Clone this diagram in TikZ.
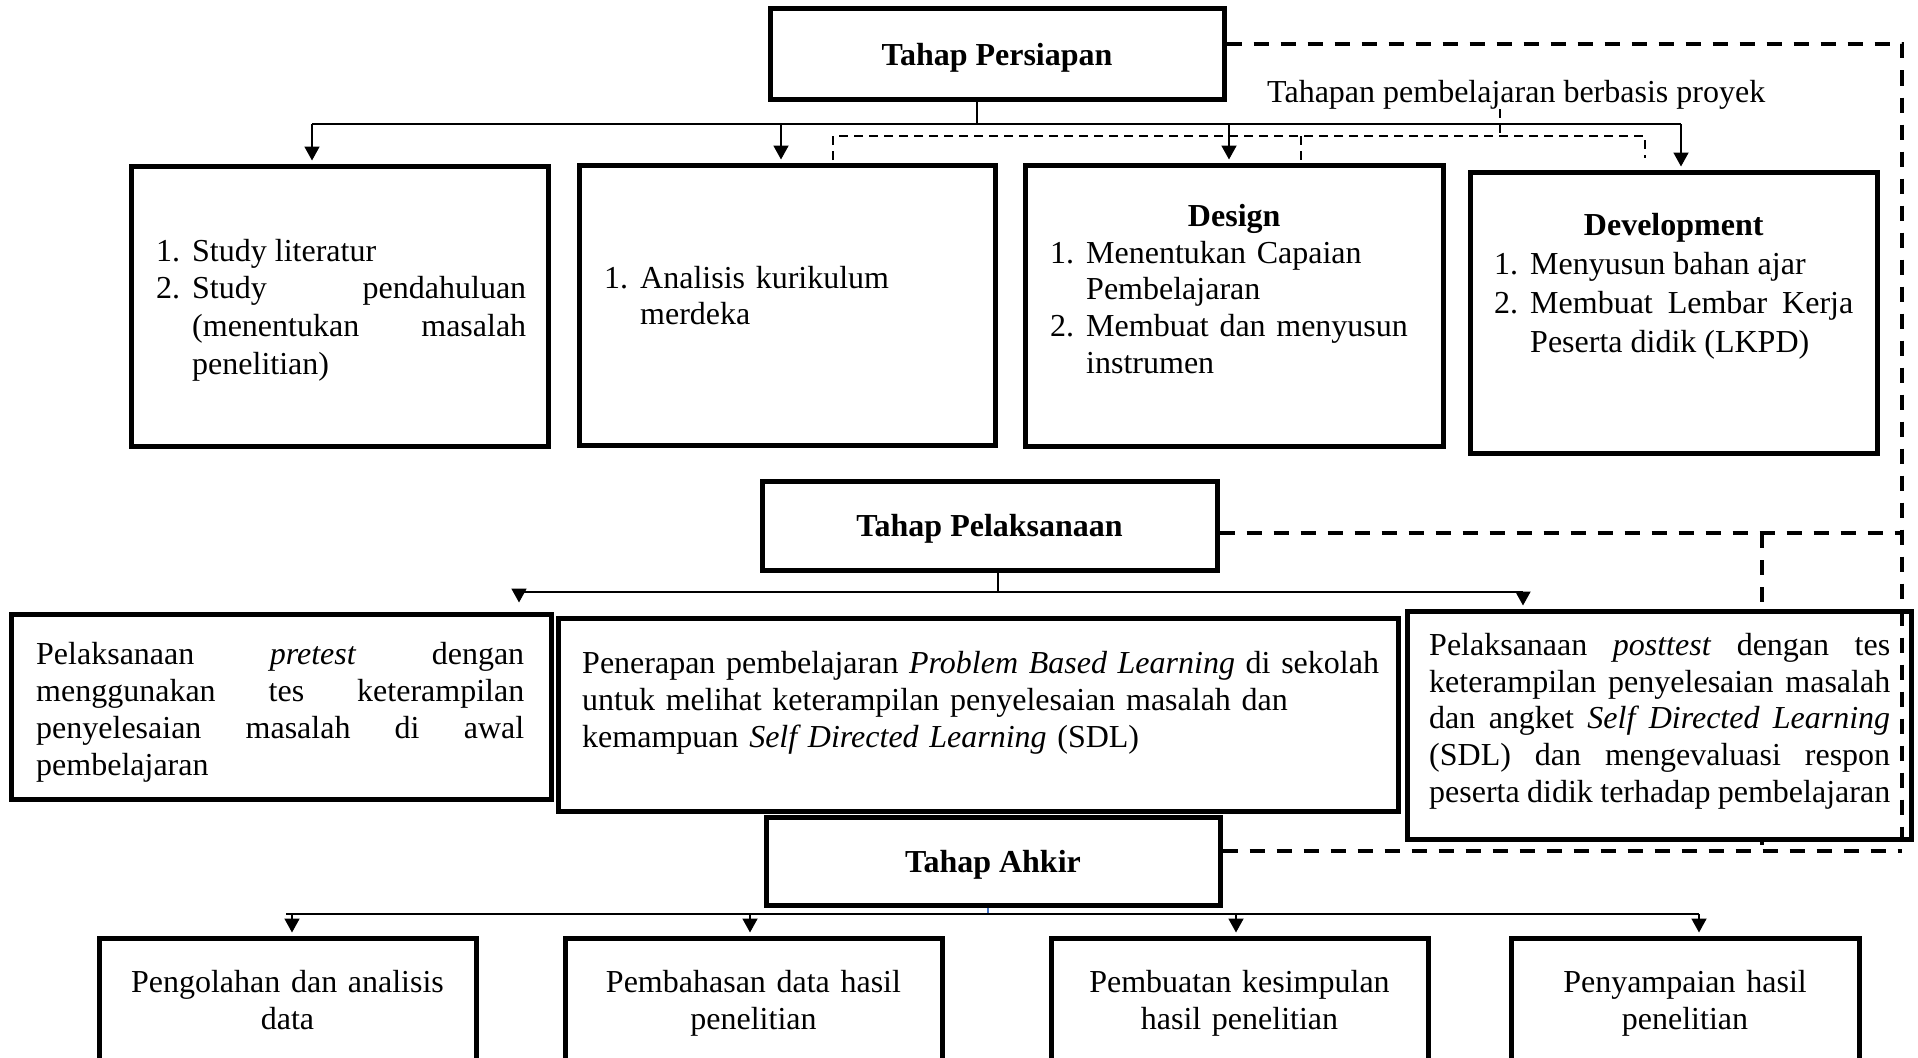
\documentclass[tikz,border=0pt]{standalone}
\usepackage{fontspec}
\setmainfont{Liberation Serif}
\usetikzlibrary{arrows.meta}
\definecolor{lineblue}{RGB}{68,114,196}
\newcommand{\itemno}[1]{\makebox[36pt][l]{#1}}
\newcommand{\fsz}[1]{\fontsize{32}{#1}\selectfont}
\hyphenpenalty=10000
\exhyphenpenalty=10000
\tolerance=10000
\setlength{\parindent}{0pt}
\tikzset{
  box/.style={draw, line width=5pt, fill=white, rectangle, inner sep=0pt},
  conn/.style={line width=1.8pt},
  blueline/.style={line width=1.6pt, draw=lineblue},
  arr/.style={line width=1.8pt, -{Triangle[length=14pt,width=15pt]}, shorten >=3pt},
  thind/.style={line width=1.5pt, dash pattern=on 9pt off 6pt},
  thickd/.style={line width=4pt, dash pattern=on 15pt off 12pt},
  txt/.style={inner sep=0pt, anchor=north west, align=justify, font=\fsz{37}},
  ctxt/.style={inner sep=0pt, anchor=north, align=center, font=\fsz{37}},
  head/.style={font={\bfseries\fsz{37}}, text depth=0pt}
}
\begin{document}
\begin{tikzpicture}[x=1pt,y=-1pt]
\useasboundingbox (0,0) rectangle (1918,1057);
\fill[white] (0,0) rectangle (1918,1057);
\clip (0,0) rectangle (1918,1057);

% hidden dashed link behind the posttest box
\coordinate (m1) at (1762,533);
\coordinate (m2) at (1762,851);
\draw[thickd] (m1) -- (m2);

% ---- boxes ----
\node[box, head, minimum width=454pt, minimum height=90pt] (P) at (997,54) {Tahap Persiapan};
\node[box, minimum width=417pt, minimum height=280pt] (A) at (339.5,306) {};
\node[box, minimum width=416pt, minimum height=280pt] (B) at (787,305) {};
\node[box, minimum width=418pt, minimum height=281pt] (C) at (1234,305.5) {};
\node[box, minimum width=407pt, minimum height=281pt] (D) at (1673.5,312.5) {};

\node[box, head, minimum width=455pt, minimum height=89pt] (Pl) at (989.5,525.5) {Tahap Pelaksanaan};
\node[box, minimum width=540pt, minimum height=185pt] (Pre) at (281,706.5) {};
\node[box, minimum width=840pt, minimum height=193pt] (PBL) at (978,714.5) {};
\node[box, minimum width=504pt, minimum height=228pt] (Post) at (1659,725) {};

\node[box, head, minimum width=454pt, minimum height=88pt] (Ak) at (993,861) {Tahap Ahkir};
\node[box, minimum width=377pt, minimum height=137pt] (E1) at (287.5,1006.5) {};
\node[box, minimum width=377pt, minimum height=137pt] (E2) at (753.5,1006.5) {};
\node[box, minimum width=377pt, minimum height=137pt] (E3) at (1239.5,1006.5) {};
\node[box, minimum width=348pt, minimum height=137pt] (E4) at (1685,1006.5) {};

% ---- texts ----
\node[txt, text width=370pt, font=\fsz{37.7}] (At) at (156,234.6)
 {\leavevmode\strut\itemno{1.}Study literatur\par
  \hangindent=36pt\hangafter=1 \itemno{2.}Study pendahuluan\linebreak (menentukan masalah\linebreak penelitian)\par};
\node[txt, align=left, text width=370pt, font=\fsz{36}] (Bt) at (604,263.3)
 {\leavevmode\strut\hangindent=36pt\hangafter=1 \itemno{1.}Analisis kurikulum\newline merdeka\par};
\node[txt, align=left, text width=368pt, font=\fsz{36.6}] (Ct) at (1050,200.9)
 {{\centering\bfseries\leavevmode\strut Design\par}
  \hangindent=36pt\hangafter=1 \itemno{1.}Menentukan Capaian\newline Pembelajaran\par
  \hangindent=36pt\hangafter=1 \itemno{2.}Membuat dan menyusun\newline instrumen\par};
\node[txt, text width=359pt, font=\fsz{39}] (Dt) at (1494,208.2)
 {{\centering\bfseries\leavevmode\strut Development\par}
  \hangindent=36pt\hangafter=1 \itemno{1.}Menyusun bahan ajar\par
  \hangindent=36pt\hangafter=1 \itemno{2.}Membuat Lembar Kerja\linebreak Peserta didik (LKPD)\par};

\node[txt, text width=488pt] (Pret) at (36,638.5)
 {\leavevmode\strut Pelaksanaan \textit{pretest} dengan\linebreak menggunakan tes keterampilan\linebreak penyelesaian masalah di awal\linebreak pembelajaran\par};
\node[txt, align=left, text width=805pt] (PBLt) at (582,647.5)
 {\leavevmode\strut Penerapan pembelajaran \textit{Problem Based Learning} di sekolah\newline untuk melihat keterampilan penyelesaian masalah dan\newline kemampuan \textit{Self Directed Learning} (SDL)\par};
\node[txt, text width=461pt, font=\fsz{36.6}] (Postt) at (1429,629.9)
 {\leavevmode\strut Pelaksanaan \textit{posttest} dengan tes\linebreak keterampilan penyelesaian masalah\linebreak dan angket \textit{Self Directed Learning}\linebreak (SDL) dan mengevaluasi respon\linebreak peserta didik terhadap pembelajaran\par};

\node[ctxt, text width=360pt] (E1t) at (287.5,966.5) {\leavevmode\strut Pengolahan dan analisis\par data\par};
\node[ctxt, text width=360pt] (E2t) at (753.5,966.5) {\leavevmode\strut Pembahasan data hasil\par penelitian\par};
\node[ctxt, text width=360pt] (E3t) at (1239.5,966.5) {\leavevmode\strut Pembuatan kesimpulan\par hasil penelitian\par};
\node[ctxt, text width=330pt] (E4t) at (1685,966.5) {\leavevmode\strut Penyampaian hasil\par penelitian\par};

\node[inner sep=0pt, anchor=base west, font=\fsz{37}] (lbl) at (1267,102) {Tahapan pembelajaran berbasis proyek};

% ---- Persiapan connectors ----
\coordinate (p1) at ([xshift=-20pt]P.south);
\coordinate (b1A) at (312,124);
\coordinate (b1B) at (781,124);
\coordinate (b1C) at (1229,124);
\coordinate (b1D) at (1681,124);
\draw[conn] (p1) -- (p1 |- b1A);
\draw[conn] (b1A) -- (b1D);
\draw[arr] (b1A) -- (b1A |- A.north);
\draw[arr] (b1B) -- (b1B |- B.north);
\draw[arr] (b1C) -- (b1C |- C.north);
\draw[arr] (b1D) -- (b1D |- D.north);

% bracket of the project-based stages
\coordinate (k1) at (833,136);
\coordinate (k2) at (1301,136);
\coordinate (k3) at (1645,136);
\coordinate (k4) at (1500,136);
\draw[thind] ([yshift=-24pt]k1) -- (k1) -- (k3) -- ([yshift=-22pt]k3);
\draw[thind] (k2) -- ([yshift=-24pt]k2);
\draw[thind] (lbl.south -| k4) -- (k4);

% ---- Pelaksanaan connectors ----
\coordinate (p2) at ([xshift=8.5pt]Pl.south);
\coordinate (b2L) at (519,592);
\coordinate (b2R) at (1523,592);
\draw[conn] (p2) -- (p2 |- b2L);
\draw[conn] (b2L) -- (b2R);
\draw[arr, shorten >=9pt] (b2L) -- (b2L |- Pre.north);
\draw[arr] (b2R) -- (b2R |- Post.north);

% ---- Ahkir connectors ----
\coordinate (p3) at ([xshift=-5pt]Ak.south);
\coordinate (b3L) at (286,914);
\coordinate (b3a) at (292,914);
\coordinate (b3b) at (750,914);
\coordinate (b3c) at (1236,914);
\coordinate (b3d) at (1699,914);
\draw[blueline] (p3) -- (p3 |- b3L);
\draw[conn] (b3L) -- (b3d);
\draw[arr] (b3a) -- (b3a |- E1.north);
\draw[arr] (b3b) -- (b3b |- E2.north);
\draw[arr] (b3c) -- (b3c |- E3.north);
\draw[arr] (b3d) -- (b3d |- E4.north);

% ---- thick dashed feedback lines ----
\coordinate (R1) at (1902,44);
\coordinate (R3) at (1902,851);
\coordinate (pe) at ([yshift=10pt]P.east);
\coordinate (ple) at ([yshift=-7.5pt]Pl.east);
\coordinate (ake) at ([yshift=10pt]Ak.east);
\draw[thickd] (pe) -- (pe -| R1) -- (R3);
\draw[thickd] (ple) -- (ple -| R1);
\draw[thickd] (ake) -- (ake -| R1);
\end{tikzpicture}
\end{document}
